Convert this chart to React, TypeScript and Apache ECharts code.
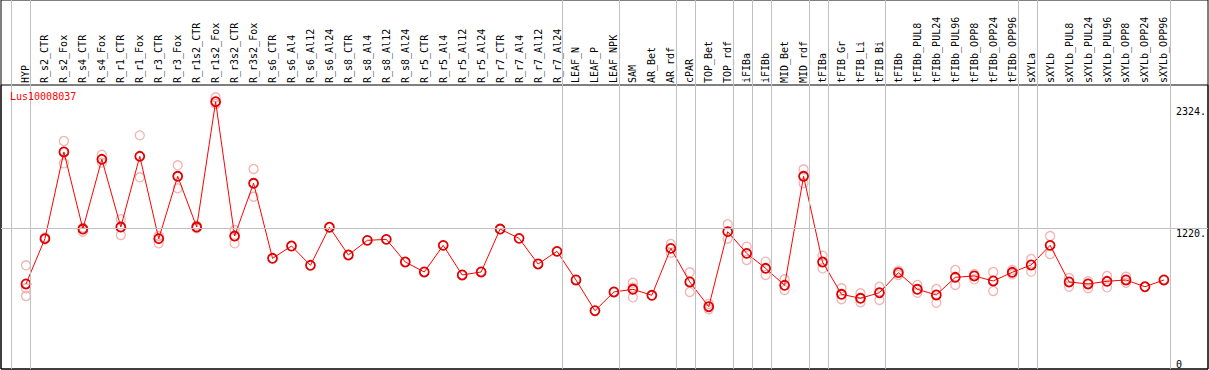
import React, { useEffect, useRef } from "react";
import * as echarts from "echarts";

const geneName = "Lus10008037";

const categories = [
  "HYP", "R_s2_CTR", "R_s2_Fox", "R_s4_CTR", "R_s4_Fox", "R_r1_CTR", "R_r1_Fox", "R_r3_CTR", "R_r3_Fox",
  "R_r1s2_CTR", "R_r1s2_Fox", "R_r3s2_CTR", "R_r3s2_Fox", "R_s6_CTR", "R_s6_Al4", "R_s6_Al12", "R_s6_Al24",
  "R_s8_CTR", "R_s8_Al4", "R_s8_Al12", "R_s8_Al24", "R_r5_CTR", "R_r5_Al4", "R_r5_Al12", "R_r5_Al24",
  "R_r7_CTR", "R_r7_Al4", "R_r7_Al12", "R_r7_Al24", "LEAF_N", "LEAF_P", "LEAF_NPK", "SAM", "AR_Bet", "AR_rdf",
  "cPAR", "TOP_Bet", "TOP_rdf", "iFIBa", "iFIBb", "MID_Bet", "MID_rdf", "tFIBa", "tFIB_Gr", "tFIB_Li", "tFIB_Bi",
  "tFIBb", "tFIBb_PUL8", "tFIBb_PUL24", "tFIBb_PUL96", "tFIBb_OPP8", "tFIBb_OPP24", "tFIBb_OPP96", "sXYLa",
  "sXYLb", "sXYLb_PUL8", "sXYLb_PUL24", "sXYLb_PUL96", "sXYLb_OPP8", "sXYLb_OPP24", "sXYLb_OPP96",
];

const means = [
  721, 1129, 1910, 1216, 1844, 1234, 1871, 1129, 1691, 1234,
  2363, 1153, 1628, 952, 1063, 889, 1232, 982, 1114, 1123,
  919, 829, 1069, 802, 829, 1216, 1132, 901, 1015, 757,
  480, 649, 673, 619, 1042, 739, 516, 1192, 997, 862,
  709, 1691, 919, 628, 592, 642, 823, 673, 622, 781,
  793, 748, 826, 892, 1069, 739, 721, 745, 757, 696, 757,
];

const replicates: number[][] = [
  [889, 682, 613], [1141, 1123], [2009, 1808], [1228, 1192], [1886, 1814],
  [1304, 1162], [2060, 1682], [1153, 1087], [1790, 1583], [1246, 1223],
  [2403, 2342], [1207, 1087], [1757, 1507], [], [], [], [], [], [], [],
  [], [], [], [], [], [], [], [], [], [],
  [], [], [732, 690, 601], [], [1081, 1003], [826, 649], [541, 493], [1259, 1129], [1057, 937], [922, 802],
  [763, 667], [1754, 1628], [976, 862], [682, 583], [637, 556], [696, 577], [841, 802], [712, 642], [676, 552], [847, 712],
  [811, 763], [829, 658], [847, 808], [946, 832], [1153, 991], [775, 696], [745, 682], [793, 691], [787, 732], [], [],
];

const yTickLabels = [2324, 1220];
const yZeroLabel = [0];
const gridLineValue = 1220;
// group separators drawn just after these category indices
const separatorsAfter = [-1, 0, 28, 31, 34, 35, 37, 38, 39, 41, 42, 45, 52, 53, 60];

const MONO = "'DejaVu Sans Mono', monospace";
const Y_MIN = -45;
const Y_MAX = 2513.5;

export default function App() {
  const ref = useRef<HTMLDivElement>(null);
  useEffect(() => {
    if (!ref.current) return;
    const chart = echarts.init(ref.current, undefined, { renderer: "svg" });
    const repData: number[][] = [];
    replicates.forEach((r, i) => r.forEach((v) => repData.push([i, v])));
    chart.setOption({
      animation: false,
      title: {
        text: geneName,
        left: 10,
        top: 91,
        padding: 0,
        textStyle: { color: "#ff0000", fontSize: 10, fontFamily: MONO, fontWeight: "normal" },
      },
      grid: [
        { left: 16.5, top: 85, width: 1159, height: 284 },
        { left: 1, top: 85, width: 1207, height: 284, show: true, borderColor: "#000", borderWidth: 1, backgroundColor: "transparent" },
        { left: 1, top: 0, width: 1207, height: 369, show: true, borderColor: "#000", borderWidth: 1, backgroundColor: "transparent" },
      ],
      xAxis: [
        {
          gridIndex: 0,
          type: "category",
          data: categories,
          position: "top",
          boundaryGap: true,
          axisLine: { show: false },
          axisTick: { show: false },
          splitLine: { show: false },
          axisLabel: {
            rotate: 90,
            interval: 0,
            margin: 2,
            verticalAlign: "middle",
            fontFamily: MONO,
            fontSize: 10,
            color: "#000",
          },
        },
        { gridIndex: 1, type: "value", min: 0, max: 1, show: false },
        { gridIndex: 2, type: "value", min: (1 - 26) / 19, max: (1208 - 26) / 19, show: false },
      ],
      yAxis: [
        {
          gridIndex: 0,
          type: "value",
          min: Y_MIN,
          max: Y_MAX,
          position: "right",
          axisLine: { show: false },
          axisTick: { show: false },
          splitLine: { show: false },
          axisLabel: {
            customValues: yTickLabels,
            formatter: (v: number) => v + ".",
            verticalAlign: "top",
            align: "left",
            margin: 2.5,
            fontFamily: MONO,
            fontSize: 10,
            color: "#000",
          },
        },
        {
          gridIndex: 0,
          type: "value",
          min: Y_MIN,
          max: Y_MAX,
          position: "right",
          axisLine: { show: false },
          axisTick: { show: false },
          splitLine: { show: false },
          axisLabel: {
            customValues: yZeroLabel,
            formatter: (v: number) => String(v),
            verticalAlign: "middle",
            align: "left",
            margin: 2.5,
            fontFamily: MONO,
            fontSize: 10,
            color: "#000",
          },
        },
        { gridIndex: 1, type: "value", min: Y_MIN, max: Y_MAX, show: false },
        { gridIndex: 2, type: "value", min: 0, max: 1, show: false },
      ],
      series: [
        {
          type: "line",
          xAxisIndex: 2,
          yAxisIndex: 3,
          data: [],
          z: 0,
          silent: true,
          markLine: {
            silent: true,
            symbol: "none",
            label: { show: false },
            lineStyle: { color: "#c0c0c0", type: "solid", width: 1 },
            data: separatorsAfter.map((k) => ({ xAxis: k + 0.22 })),
          },
        },
        {
          type: "line",
          xAxisIndex: 1,
          yAxisIndex: 2,
          data: [],
          z: 0,
          silent: true,
          markLine: {
            silent: true,
            symbol: "none",
            label: { show: false },
            lineStyle: { color: "#c0c0c0", type: "solid", width: 1 },
            data: [{ yAxis: gridLineValue }],
          },
        },
        {
          type: "scatter",
          xAxisIndex: 0,
          yAxisIndex: 0,
          data: repData,
          symbol: "circle",
          symbolSize: 9,
          itemStyle: { color: "transparent", borderColor: "#f0a0a0", borderWidth: 1.3 },
          z: 2,
        },
        {
          type: "line",
          xAxisIndex: 0,
          yAxisIndex: 0,
          data: means,
          symbol: "circle",
          symbolSize: 9,
          showAllSymbol: true,
          lineStyle: { color: "#ff0000", width: 1 },
          itemStyle: { color: "transparent", borderColor: "#e00000", borderWidth: 1.8 },
          z: 3,
        },
      ],
    });
    return () => chart.dispose();
  }, []);
  return (
    <div
      ref={ref}
      style={{ position: "fixed", left: 0, top: 0, width: 1209, height: 370, background: "#fff" }}
    />
  );
}
